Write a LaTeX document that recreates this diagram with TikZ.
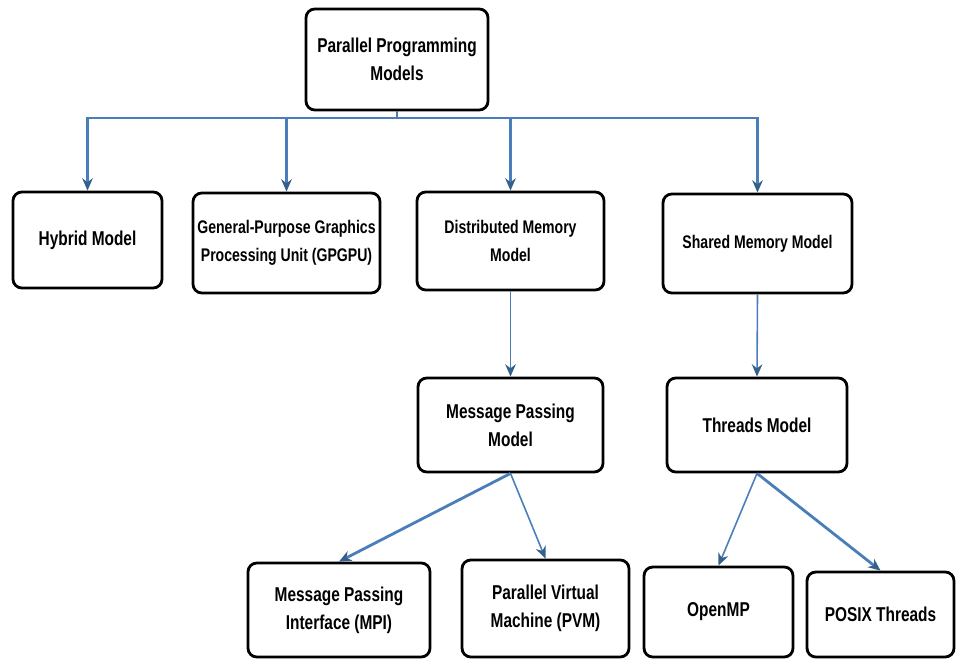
\documentclass[tikz,border=0pt]{standalone}
\usepackage{fontspec}
\setmainfont{Liberation Sans}[FakeStretch=0.77]
\usepackage{tikz}
\usetikzlibrary{arrows.meta}
\definecolor{linkblue}{RGB}{74,126,187}
\definecolor{headblue}{RGB}{52,96,140}

\begin{document}
\begin{tikzpicture}[
        box/.style={rectangle, rounded corners=5pt, draw=black, line width=1.6pt, fill=white, inner sep=2pt, align=center, font=\bfseries\fontsize{11.4}{16}\selectfont},
        smallbox/.style={box, font=\bfseries\fontsize{10.4}{16}\selectfont},
        link/.style={draw=linkblue, line width=1.2pt, -{Stealth[length=7pt, width=6pt, color=headblue]}},
        thin link/.style={link, line width=0.9pt},
        thick link/.style={link, line width=1.6pt}
    ]
            \useasboundingbox (0, 0) rectangle (19.12, -13.2);

            \node[box, minimum width=3.64cm, minimum height=2.02cm] (ppm) at (7.94, -1.19) {Parallel Programming\\Models};

            \node[box, minimum width=2.98cm, minimum height=1.92cm] (hybrid) at (1.75, -4.80) {Hybrid Model};
            \node[smallbox, minimum width=3.74cm, minimum height=2.00cm] (gpgpu) at (5.73, -4.86) {General-Purpose Graphics\\Processing Unit (GPGPU)};
            \node[smallbox, minimum width=3.74cm, minimum height=1.96cm] (dmm) at (10.21, -4.82) {Distributed Memory\\Model};
            \node[smallbox, minimum width=3.78cm, minimum height=1.98cm] (smm) at (15.15, -4.87) {Shared Memory Model};

            \node[box, minimum width=3.70cm, minimum height=1.88cm] (mpm) at (10.21, -8.50) {Message Passing\\Model};
            \node[box, minimum width=3.60cm, minimum height=1.88cm] (threads) at (15.14, -8.50) {Threads Model};

            \node[box, minimum width=3.64cm, minimum height=1.88cm] (mpi) at (6.78, -12.20) {Message Passing\\Interface (MPI)};
            \node[box, minimum width=3.34cm, minimum height=1.94cm] (pvm) at (10.91, -12.17) {Parallel Virtual\\Machine (PVM)};
            \node[box, minimum width=2.98cm, minimum height=1.80cm] (openmp) at (14.37, -12.24) {OpenMP};
            \node[box, minimum width=2.94cm, minimum height=1.70cm] (posix) at (17.61, -12.29) {POSIX Threads};

            % split below the root
            \coordinate (split) at (7.94, -2.36);
            \draw[draw=linkblue, line width=1.2pt] (ppm.south) -- (split);
            \foreach \n in {hybrid, gpgpu, dmm, smm}
                \draw[link] (split) -| (\n.north);

            \draw[thin link] (dmm.south) -- (mpm.north);
            \draw[thin link] (smm.south) -- (threads.north);

            \draw[thick link] (mpm.south) -- (mpi.north);
            \draw[thin link] (mpm.south) -- (pvm.north);
            \draw[thin link] (threads.south) -- (openmp.north);
            \draw[thick link] (threads.south) -- (posix.north);
        \end{tikzpicture}
\end{document}
